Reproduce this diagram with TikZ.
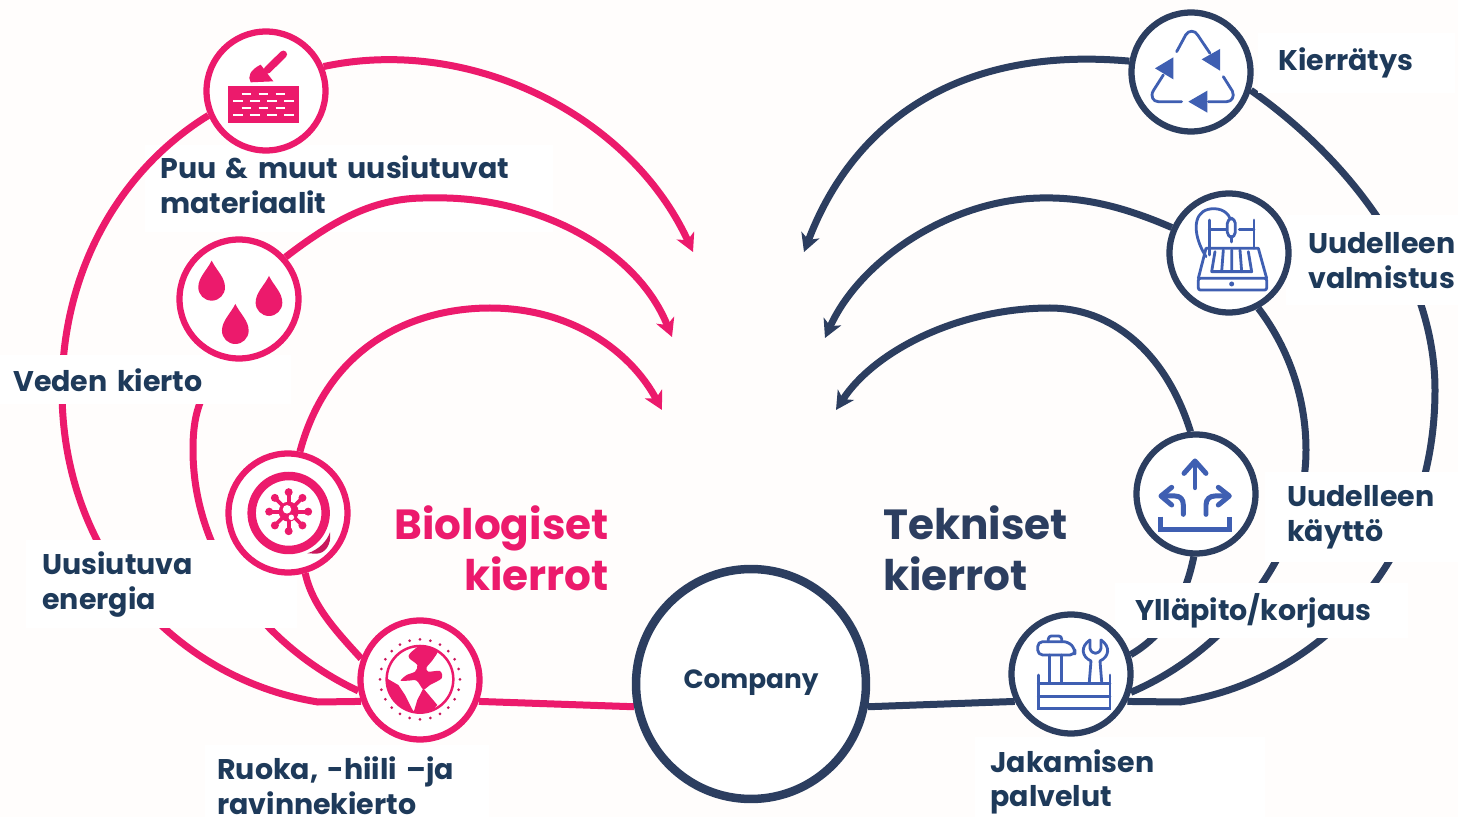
\documentclass[tikz,border=0pt]{standalone}
\usepackage{fontspec}
\setmainfont{Poppins}[BoldFeatures={WordSpace=0.72}]
\usetikzlibrary{arrows.meta,backgrounds}
\definecolor{pagec}{HTML}{FFFDFC}
\definecolor{pinkc}{HTML}{EC1A6C}
\definecolor{navyc}{HTML}{2C3E60}
\definecolor{textc}{HTML}{1E3A5A}
\definecolor{iconc}{HTML}{3F5FB2}
\tikzset{
	icon/.style = {circle, draw, fill=white, line width=0.125cm, minimum size=2.38cm, inner sep=0pt},
	pinkicon/.style = {icon, draw=pinkc},
	navyicon/.style = {icon, draw=navyc},
	pinkline/.style = {draw=pinkc, line width=0.14cm},
	navyline/.style = {draw=navyc, line width=0.14cm},
	tip/.style = {-{Stealth[length=0.36cm,width=0.38cm,inset=0.1cm]}},
	lbl/.style = {fill=white, anchor=north west, align=left, inner ysep=0pt, text=textc,
		font=\fontsize{16.2}{19.8}\selectfont\bfseries},
	title/.style = {inner sep=0pt, font=\fontsize{24}{29}\selectfont\bfseries},
	zoomed/.style 2 args = {shift={(#1,#2)}, x=0.00667cm, y=-0.00667cm},
	glyph/.style = {draw=iconc, line width=0.056cm, line cap=round, line join=round},
	boldglyph/.style = {glyph, line width=0.1cm}
}
\begin{document}
\begin{tikzpicture}[x=0.02cm,y=-0.02cm]
\useasboundingbox (0,0) rectangle (1458,817);
% icons
\node [pinkicon] (puu) at (266,91) {};
\node [pinkicon] (vesi) at (239,299) {};
\node [pinkicon] (energia) at (288,513) {};
\node [pinkicon] (ruoka) at (420,680) {};
\node [navyicon] (kierratys) at (1191,72) {};
\node [navyicon] (valmistus) at (1229,253) {};
\node [navyicon] (kaytto) at (1196,494) {};
\node [navyicon] (jakaminen) at (1071,674) {};
\node [circle, draw=navyc, fill=white, line width=0.17cm, minimum size=4.6cm, inner sep=0pt,
	text=textc, font=\fontsize{15}{18}\selectfont\bfseries] (company) at (751,684) {\raisebox{-0.08cm}[0pt][0pt]{Company}};
% free ends of the arrows
\coordinate (puuend) at (693,252);
\coordinate (vesiend) at (672,337);
\coordinate (energiaend) at (662,410);
\coordinate (kierrend) at (804,252);
\coordinate (valmend) at (825,338);
\coordinate (kayttoend) at (836,410);
\coordinate (pinkbend) at (318,702);
\coordinate (navybend) at (1180,702);
\begin{scope}[on background layer]
\fill [pagec] (0,0) rectangle (1458,817);
% this label lies under the cycles
\fill [white] (145,145) rectangle (553,232);
\node [lbl, fill=none, text width=7.56cm, inner xsep=0.3cm, minimum height=1.56cm] (puulabel) at (145,145)
	{Puu \& muut uusiutuvat\\materiaalit};
% pink cycles
\draw [pinkline] (ruoka.200) -- (pinkbend) .. controls (180,680) and (62,560) .. (62,390)
	.. controls (62,270) and (120,170) .. (puu.203);
\draw [pinkline,tip] (puu.23) .. controls (470,35) and (630,115) .. (puuend);
\draw [pinkline] (ruoka.190) .. controls (270,650) and (193,560) .. (193,450)
	.. controls (193,420) and (197,390) .. (vesi.262);
\draw [pinkline,tip] (vesi.42) .. controls (340,215) and (380,197) .. (430,198)
	.. controls (530,195) and (635,245) .. (vesiend);
\draw [pinkline] (ruoka.160) .. controls (335,630) and (312,605) .. (energia.-74);
\draw [pinkline,tip] (energia.79) .. controls (330,340) and (420,308) .. (490,308)
	.. controls (570,308) and (630,350) .. (energiaend);
\draw [pinkline] (ruoka.-20) -- (company.191);
% navy cycles
\draw [navyline] (company.-11) -- (jakaminen.206);
\draw [navyline] (jakaminen.-26) -- (navybend) .. controls (1320,680) and (1435,560) .. (1435,390)
	.. controls (1435,270) and (1350,160) .. (kierratys.-17);
\draw [navyline,tip] (kierratys.170) .. controls (950,45) and (850,130) .. (kierrend);
\draw [navyline] (jakaminen.-17) .. controls (1230,650) and (1306,550) .. (1306,450)
	.. controls (1306,400) and (1290,350) .. (valmistus.-62);
\draw [navyline,tip] (valmistus.156) .. controls (1120,205) and (1080,197) .. (1040,198)
	.. controls (950,200) and (860,260) .. (valmend);
\draw [navyline] (jakaminen.18) .. controls (1165,635) and (1185,600) .. (kaytto.268);
\draw [navyline,tip] (kaytto.95) .. controls (1165,350) and (1110,308) .. (1050,308)
	.. controls (960,308) and (875,350) .. (kayttoend);
% labels
\node [lbl, text width=5.3cm, inner xsep=0.26cm, minimum height=0.98cm] (vesilabel) at (0,355)
	{Veden kierto};
\node [lbl, text width=4.78cm, inner xsep=0.32cm, minimum height=1.76cm] (energialabel) at (26,540)
	{Uusiutuva\\energia};
\node [lbl, text width=5.2cm, inner xsep=0.24cm, minimum height=1.6cm] (ruokalabel) at (205,745)
	{Ruoka, -hiili –ja\\ravinnekierto};
\node [lbl, text width=3.14cm, inner xsep=0.4cm, minimum height=1.2cm] (kierrlabel) at (1258,33)
	{Kierrätys};
\node [lbl, text width=3.0cm, inner xsep=0.44cm, minimum height=1.8cm] (valmlabel) at (1286,215)
	{Uudelleen\\valmistus};
\node [lbl, text width=3.0cm, inner xsep=0.44cm, minimum height=1.8cm] (kayttolabel) at (1265,472)
	{Uudelleen\\käyttö};
\node [lbl, text width=5.06cm, inner xsep=0.4cm, minimum height=1.1cm] (yllapitolabel) at (1115,583)
	{Ylläpito/korjaus};
\node [lbl, text width=5.2cm, inner xsep=0.3cm, minimum height=1.78cm] (jakolabel) at (975,737)
	{Jakamisen\\palvelut};
\end{scope}
% titles
\node [title, text=pinkc, align=right, anchor=north east] (biotitle) at (609,505) {Biologiset\\kierrot};
\node [title, text=navyc, align=left, anchor=north west] (tektitle) at (883,505) {Tekniset\\kierrot};
% trowel and bricks
\begin{scope}[zoomed={170}{20}]
\fill [pinkc] (174,198) rectangle (387,308);
\foreach \y in {222,264}
	\draw [white, line width=0.045cm, dash pattern=on 5.3pt off 4.37pt] (215,\y) -- (345,\y);
\foreach \y in {243,285}
	\draw [white, line width=0.045cm, dash pattern=on 5.3pt off 4.37pt] (190,\y) -- (372,\y);
\draw [pinkc, line width=0.15cm, line cap=round] (292,150) -- (340,103);
\fill [pinkc] (272,134) -- (310,184) -- (242,187) .. controls (232,170) and (240,150) .. (272,134) -- cycle;
\end{scope}
% water drops
\begin{scope}[zoomed={170}{20}]
\foreach \x/\y in {125/722,297/768,196/852} {
	\fill [pinkc] (\x,\y) .. controls (\x+15,\y+30) and (\x+40,\y+50) .. (\x+40,\y+80)
		arc [start angle=0, end angle=-180, radius=0.267cm, y radius=0.267cm]
		.. controls (\x-40,\y+50) and (\x-15,\y+30) .. (\x,\y) -- cycle;
}
\end{scope}
% virus in a roll
\begin{scope}[zoomed={210}{440}]
\draw [pinkc, line width=0.17cm] (236,219) circle [radius=0.74cm];
\fill [pinkc!85!black] (292,340) .. controls (325,330) and (350,305) .. (360,277)
	.. controls (365,315) and (345,340) .. (320,341) -- cycle;
\fill [pinkc] (236,215) circle [radius=0.2cm];
\foreach \a in {0,45,...,315} {
	\draw [pinkc, line width=0.075cm] (236,215) -- ++(\a:0.38cm);
	\fill [pinkc] (236,215) ++(\a:0.39cm) circle [radius=0.08cm];
}
\fill [white] (231,208) circle [radius=0.085cm];
\fill [white] (244,232) circle [radius=0.055cm];
\end{scope}
% globe
\begin{scope}[zoomed={210}{440}]
\draw [pinkc, line width=0.05cm] (630,718) circle [radius=0.667cm];
\foreach \a in {0,15,...,345}
	\fill [pinkc!85!black] (630,718) ++(\a:0.8cm) circle [radius=0.03cm];
\begin{scope}
\clip (630,718) circle [radius=0.667cm];
\fill [pinkc] plot [smooth cycle, tension=0.5] coordinates {(600,640) (640,612) (684,628) (668,660)
	(650,682) (655,695) (690,693) (695,715) (660,735) (640,748) (620,722) (595,722) (572,722)
	(590,705) (615,695) (622,675) (598,655)};
\fill [pinkc] (640,745) -- (682,795) -- (650,830) -- (610,820) -- (622,780) -- cycle;
\fill [pinkc] (525,712) -- (565,735) -- (585,765) -- (612,818) -- (560,810) -- (520,760) -- cycle;
\end{scope}
\end{scope}
% recycling
\begin{scope}[zoomed={1120}{0}]
\draw [glyph] (170,155) -- (197,105) .. controls (205,90) and (225,90) .. (233,105) -- (270,160);
\draw [glyph] (310,230) -- (337,273) .. controls (345,290) and (335,305) .. (320,305) -- (265,305);
\draw [glyph] (185,305) -- (115,305) .. controls (100,305) and (90,290) .. (100,272) -- (130,225);
\fill [iconc] (245,178) -- (300,147) -- (300,212) -- cycle;
\fill [iconc] (160,172) -- (105,205) -- (160,238) -- cycle;
\fill [iconc] (262,272) -- (205,305) -- (262,338) -- cycle;
\end{scope}
% milling machine
\begin{scope}[zoomed={1120}{0}]
\draw [glyph, rounded corners=0.04cm] (235,835) rectangle (440,870);
\draw [glyph] (235,835) -- (258,745) -- (415,745) -- (440,835);
\draw [glyph] (285,755) -- (275,815) -- (395,815) -- (385,755);
\draw [glyph] (310,750) -- (305,815) (335,750) -- (335,815) (360,750) -- (365,815);
\draw [glyph] (268,660) -- (268,765) (402,660) -- (402,745);
\draw [glyph] (268,688) -- (318,688) (358,688) -- (402,688);
\draw [glyph, rounded corners=0.1cm] (322,655) rectangle (346,712);
\draw [glyph] (334,712) -- (334,726);
\draw [glyph] (330,655) .. controls (320,630) and (290,622) .. (265,628)
	.. controls (215,640) and (220,710) .. (258,770);
\fill [iconc] (335,852) circle [radius=0.05cm];
\end{scope}
% three arrows
\begin{scope}[zoomed={1000}{425}]
\draw [boldglyph] (585,188) -- (585,112);
\draw [boldglyph] (552,145) -- (585,108) -- (618,145);
\draw [boldglyph] (550,268) -- (550,240) .. controls (550,222) and (540,213) .. (525,213) -- (490,213);
\draw [boldglyph] (515,187) -- (483,213) -- (515,240);
\draw [boldglyph] (618,268) -- (618,240) .. controls (618,222) and (630,213) .. (645,213) -- (680,213);
\draw [boldglyph] (655,187) -- (688,213) -- (655,240);
\draw [iconc, line width=0.1cm, line join=miter] (482,275) -- (482,314) -- (688,314) -- (688,275);
\end{scope}
% tool box
\begin{scope}[zoomed={1000}{425}]
\draw [glyph, rounded corners=0.1cm] (113,650) -- (205,650) -- (225,672) -- (225,690) -- (113,690) -- cycle;
\draw [glyph, rounded corners=0.06cm] (145,650) -- (145,633) -- (185,633) -- (185,650);
\draw [glyph] (148,690) -- (148,770) (185,690) -- (185,770);
\draw [glyph] (270,645) .. controls (240,665) and (245,695) .. (273,708) -- (268,770);
\draw [glyph] (303,645) .. controls (332,665) and (328,695) .. (300,708) -- (305,770);
\draw [glyph] (270,645) -- (270,670) .. controls (275,690) and (298,690) .. (303,670) -- (303,645);
\draw [glyph, line join=miter] (115,750) -- (115,850) -- (330,850) -- (330,750);
\draw [glyph] (115,775) -- (330,775) (115,815) -- (330,815);
\end{scope}
\end{tikzpicture}
\end{document}
